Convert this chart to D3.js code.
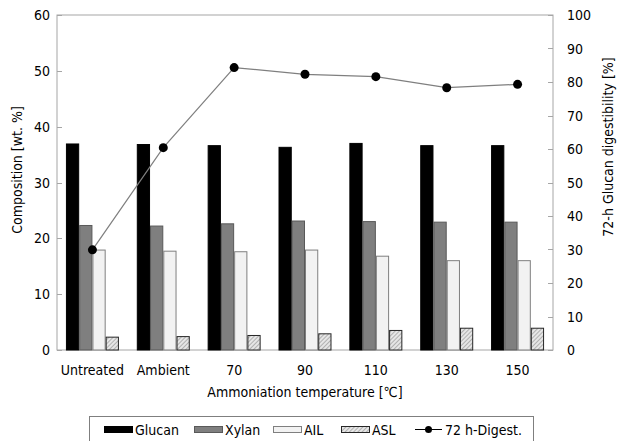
<!DOCTYPE html>
<html>
<head>
<meta charset="utf-8">
<script src="https://cdn.jsdelivr.net/npm/d3@7"></script>
<style>
  body { margin: 0; background: #fff; }
  svg { font-family: "DejaVu Sans Condensed", "DejaVu Sans", sans-serif; font-stretch: condensed; }
  .lbl { font-size: 14px; fill: #000; }
</style>
</head>
<body>
<div class="chart-div"></div>
<script>
var categories = ["Untreated", "Ambient", "70", "90", "110", "130", "150"];
var series_names = ["Glucan", "Xylan", "AIL", "ASL"];
var glucan = [36.9, 36.8, 36.6, 36.3, 37.0, 36.6, 36.6];
var xylan  = [22.3, 22.2, 22.6, 23.1, 23.0, 22.9, 22.9];
var ail    = [17.9, 17.7, 17.6, 17.9, 16.8, 16.0, 16.0];
var asl    = [2.3, 2.4, 2.6, 2.9, 3.5, 3.9, 3.9];
var digest = [29.9, 60.4, 84.3, 82.3, 81.6, 78.3, 79.3];
var left_ticks = [0, 10, 20, 30, 40, 50, 60];
var right_ticks = [0, 10, 20, 30, 40, 50, 60, 70, 80, 90, 100];

function draw_chart() {
  var w = 620, h = 441,
      plot_left = 57, plot_right = 553,
      plot_top = 15, plot_bottom = 350,
      frame = "#a6a6a6";

  var svg = d3.select('.chart-div')
    .append('svg')
    .attr('width', w)
    .attr('height', h);

  var defs = svg.append('defs');
  var pat = defs.append('pattern')
    .attr('id', 'hatch')
    .attr('patternUnits', 'userSpaceOnUse')
    .attr('width', 3)
    .attr('height', 3)
    .attr('patternTransform', 'rotate(45)');
  pat.append('rect').attr('width', 3).attr('height', 3).attr('fill', '#e6e6e6');
  pat.append('line').attr('x1', 0).attr('y1', 0).attr('x2', 0).attr('y2', 3)
    .attr('stroke', '#8c8c8c').attr('stroke-width', 1.2);

  var x = d3.scaleBand().domain(categories).range([plot_left, plot_right]).padding(0);
  var xs = d3.scaleBand().domain(series_names).range([0, x.bandwidth()])
    .paddingInner(0).paddingOuter(0.675);
  var y = d3.scaleLinear().domain([0, 60]).range([plot_bottom, plot_top]);
  var y2 = d3.scaleLinear().domain([0, 100]).range([plot_bottom, plot_top]);

  // frame
  svg.append('rect')
    .attr('x', plot_left).attr('y', plot_top)
    .attr('width', plot_right - plot_left).attr('height', plot_bottom - plot_top)
    .attr('fill', 'none').attr('stroke', frame);

  // inward ticks
  svg.append('g').selectAll('line').data(left_ticks).join('line')
    .attr('x1', plot_left).attr('x2', plot_left + 5)
    .attr('y1', d => Math.round(y(d)) + 0.5).attr('y2', d => Math.round(y(d)) + 0.5)
    .attr('stroke', frame);
  svg.append('g').selectAll('line').data(right_ticks).join('line')
    .attr('x1', plot_right - 5).attr('x2', plot_right)
    .attr('y1', d => Math.round(y2(d)) + 0.5).attr('y2', d => Math.round(y2(d)) + 0.5)
    .attr('stroke', frame);

  svg.append('g').selectAll('text').data(left_ticks).join('text')
    .attr('class', 'lbl')
    .attr('x', plot_left - 7).attr('y', d => y(d) + 5)
    .attr('text-anchor', 'end')
    .text(d => d);
  svg.append('g').selectAll('text').data(right_ticks).join('text')
    .attr('class', 'lbl')
    .attr('x', plot_right + 14).attr('y', d => y2(d) + 5)
    .text(d => d);

  // bars
  var series = [
    {name: "Glucan", values: glucan, fill: "#000000", stroke: "#000000"},
    {name: "Xylan", values: xylan, fill: "#7f7f7f", stroke: "#595959"},
    {name: "AIL", values: ail, fill: "#f2f2f2", stroke: "#7f7f7f"},
    {name: "ASL", values: asl, fill: "url(#hatch)", stroke: "#262626"}
  ];
  series.forEach(function(s) {
    svg.append('g').selectAll('rect').data(s.values).join('rect')
      .attr('x', (d, i) => x(categories[i]) + xs(s.name) + 0.5)
      .attr('y', d => y(d))
      .attr('width', xs.bandwidth() - 1)
      .attr('height', d => plot_bottom - y(d))
      .attr('fill', s.fill)
      .attr('stroke', s.stroke)
      .attr('stroke-width', 1);
  });

  // digestibility line
  var line = d3.line()
    .x((d, i) => x(categories[i]) + x.bandwidth() / 2)
    .y(d => y2(d));
  svg.append('path')
    .datum(digest)
    .attr('d', line)
    .attr('fill', 'none')
    .attr('stroke', '#7f7f7f')
    .attr('stroke-width', 1.2);
  svg.append('g').selectAll('circle').data(digest).join('circle')
    .attr('cx', (d, i) => x(categories[i]) + x.bandwidth() / 2)
    .attr('cy', d => y2(d))
    .attr('r', 4.5)
    .attr('fill', '#000');

  // category labels
  svg.append('g').selectAll('text').data(categories).join('text')
    .attr('class', 'lbl')
    .attr('x', d => x(d) + x.bandwidth() / 2)
    .attr('y', 375)
    .attr('text-anchor', 'middle')
    .text(d => d);

  svg.append('text')
    .attr('class', 'lbl')
    .attr('x', 305).attr('y', 397)
    .attr('text-anchor', 'middle')
    .text('Ammoniation temperature [\u2103]');

  svg.append('text')
    .attr('class', 'lbl')
    .attr('transform', 'translate(22,170) rotate(-90)')
    .attr('text-anchor', 'middle')
    .text('Composition [wt. %]');

  svg.append('text')
    .attr('class', 'lbl')
    .attr('transform', 'translate(613,147) rotate(-90)')
    .attr('text-anchor', 'middle')
    .text('72-h Glucan digestibility [%]');

  // legend
  var lg = svg.append('g');
  lg.append('rect')
    .attr('x', 89.5).attr('y', 416.5)
    .attr('width', 444).attr('height', 40)
    .attr('fill', '#fff').attr('stroke', '#7f7f7f');
  var legend_x = [104, 194, 273, 341];
  series.forEach(function(s, i) {
    lg.append('rect')
      .attr('x', legend_x[i] + 0.5).attr('y', 426.5)
      .attr('width', 28).attr('height', 6)
      .attr('fill', s.fill).attr('stroke', s.stroke);
    lg.append('text')
      .attr('class', 'lbl')
      .attr('x', legend_x[i] + 31).attr('y', 435)
      .text(s.name);
  });
  lg.append('line')
    .attr('x1', 415).attr('x2', 442).attr('y1', 429.5).attr('y2', 429.5)
    .attr('stroke', '#000').attr('stroke-width', 1);
  lg.append('circle').attr('cx', 428.5).attr('cy', 429.5).attr('r', 3.5).attr('fill', '#000');
  lg.append('text')
    .attr('class', 'lbl')
    .attr('x', 445).attr('y', 435)
    .text('72 h-Digest.');
}

draw_chart();
</script>
</body>
</html>
